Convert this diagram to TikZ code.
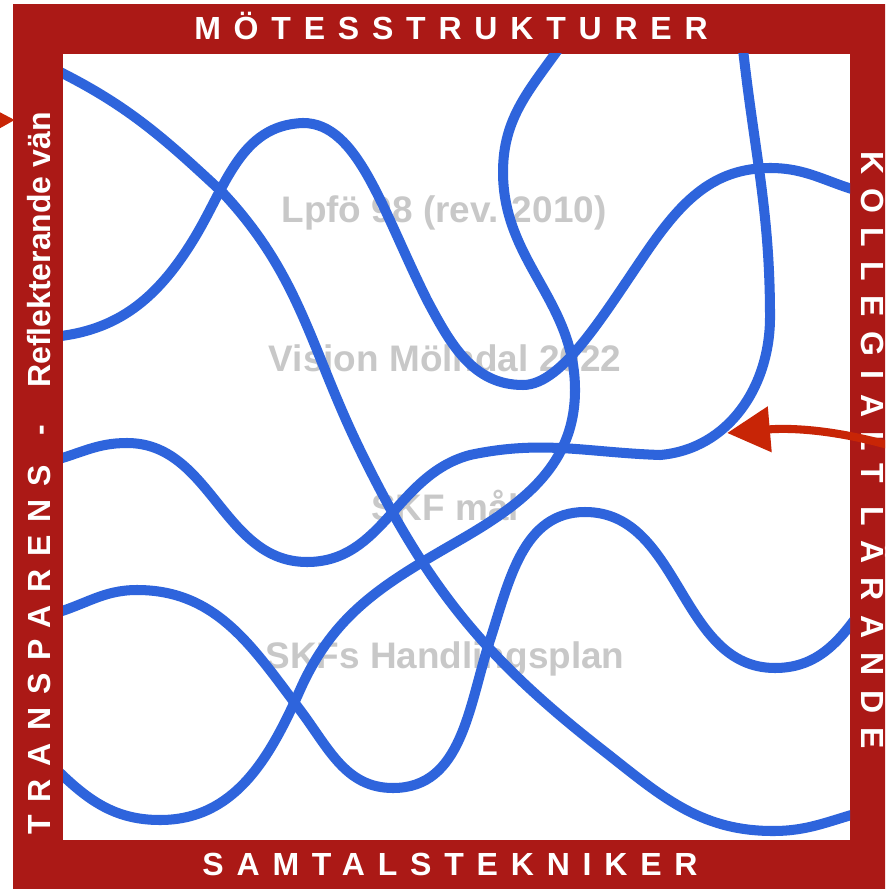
\documentclass[tikz,border=0pt]{standalone}
\usepackage{fontspec}
\setmainfont{Liberation Sans}
\newfontfamily\widefont[LetterSpace=40]{Liberation Sans}
\newfontfamily\widerfont[LetterSpace=45]{Liberation Sans}
\usetikzlibrary{arrows.meta}
\definecolor{framered}{RGB}{171,25,22}
\definecolor{strandblue}{RGB}{46,100,220}
\definecolor{goalgrey}{RGB}{200,200,200}
\definecolor{arrowred}{RGB}{200,37,6}
\tikzset{
  strand/.style={draw=strandblue,line width=2.85pt},
  goal/.style={text=goalgrey,font=\fontsize{10.5}{12}\selectfont\bfseries,anchor=base,inner sep=0pt},
  side/.style={text=white,font={\widefont\fontsize{9.1}{11}\selectfont\bfseries},anchor=base,inner sep=0pt},
  sidewide/.style={side,font={\widerfont\fontsize{9.1}{11}\selectfont\bfseries}},
  sideplain/.style={side,font=\fontsize{9.1}{11}\selectfont\bfseries},
  pointer/.style={draw=arrowred,line width=2.3pt,-{Triangle[length=12.2pt,width=12.5pt]}}
}
\begin{document}
\begin{tikzpicture}[x=0.01cm,y=-0.01cm]
    \clip (0,0) rectangle (885,889);
    \fill[framered] (13,4) rectangle (900,900);
    \fill[white] (63,54) rectangle (850,840);
    \node[side] (mote) at (451,40) {MÖTESSTRUKTURER};
    \node[side] (samtal) at (450,875) {SAMTALSTEKNIKER};
    \node[sidewide,rotate=-90] (kolleg) at (861,450) {KOLLEGIALT LÄRANDE};
    \node[side,rotate=90] (transp) at (50,650) {TRANSPARENS};
    \node[sideplain,rotate=90] (dash) at (50,430) {-};
    \node[sideplain,rotate=90] (reflekt) at (50,250) {Reflekterande vän};
    \node[goal] (lpfo) at (444,223) {Lpfö 98 (rev. 2010)};
    \node[goal] (vision) at (445,372) {Vision Mölndal 2022};
    \node[goal] (skfmal) at (445,520) {SKF mål};
    \node[goal] (handling) at (445,668) {SKFs Handlingsplan};
    \begin{scope}
        \clip (63,54) rectangle (850,840);
        \draw[strand] (52,68) to[out=-26,in=-223] (223,193) to[out=-47,in=-244] (360,450)
            to[out=-64,in=-218] (600,748) to[out=-38,in=-180] (773,831) to[out=0,in=-165] (862,812);
        \draw[strand] (52,337) to[out=5,in=-122] (192,242) to[out=58,in=-178] (303,123)
            .. controls +(55,0) and +(-45,-90) .. (427,300) to[out=-62,in=-180] (523,385)
            .. controls +(40,0) and +(-45,65) .. (650,247) to[out=55,in=-180] (770,168) to[out=0,in=-195] (862,192);
        \draw[strand] (562,44) to[out=-125,in=90] (503,172) to[out=-90,in=90] (575,390)
            to[out=-90,in=30] (460,540) to[out=-150,in=66] (300,690) to[out=-114,in=0] (160,820) to[out=-180,in=-45] (52,765);
        \draw[strand] (52,461) to[out=15,in=-180] (127,443) to[out=0,in=-180] (307,562) to[out=0,in=-165] (470,455)
            to[out=12,in=-182] (660,455) to[out=5,in=-90] (770,317) to[out=90,in=-84] (742,40);
        \draw[strand] (52,614) to[out=15,in=-180] (137,590) to[out=0,in=127] (300,710) to[out=-53,in=-180] (393,788)
            to[out=0,in=-108] (490,640) to[out=72,in=-180] (585,512) to[out=0,in=-180] (775,668) to[out=0,in=-125] (860,612);
    \end{scope}
    \coordinate (kin) at (895,447);
    \coordinate (ktip) at (727,433);
    \draw[pointer] (kin) .. controls (830,428) and (785,428) .. (ktip);
    \coordinate (rin) at (-60,121);
    \coordinate (rtip) at (15,120);
    \draw[pointer] (rin) -- (rtip);
\end{tikzpicture}
\end{document}
